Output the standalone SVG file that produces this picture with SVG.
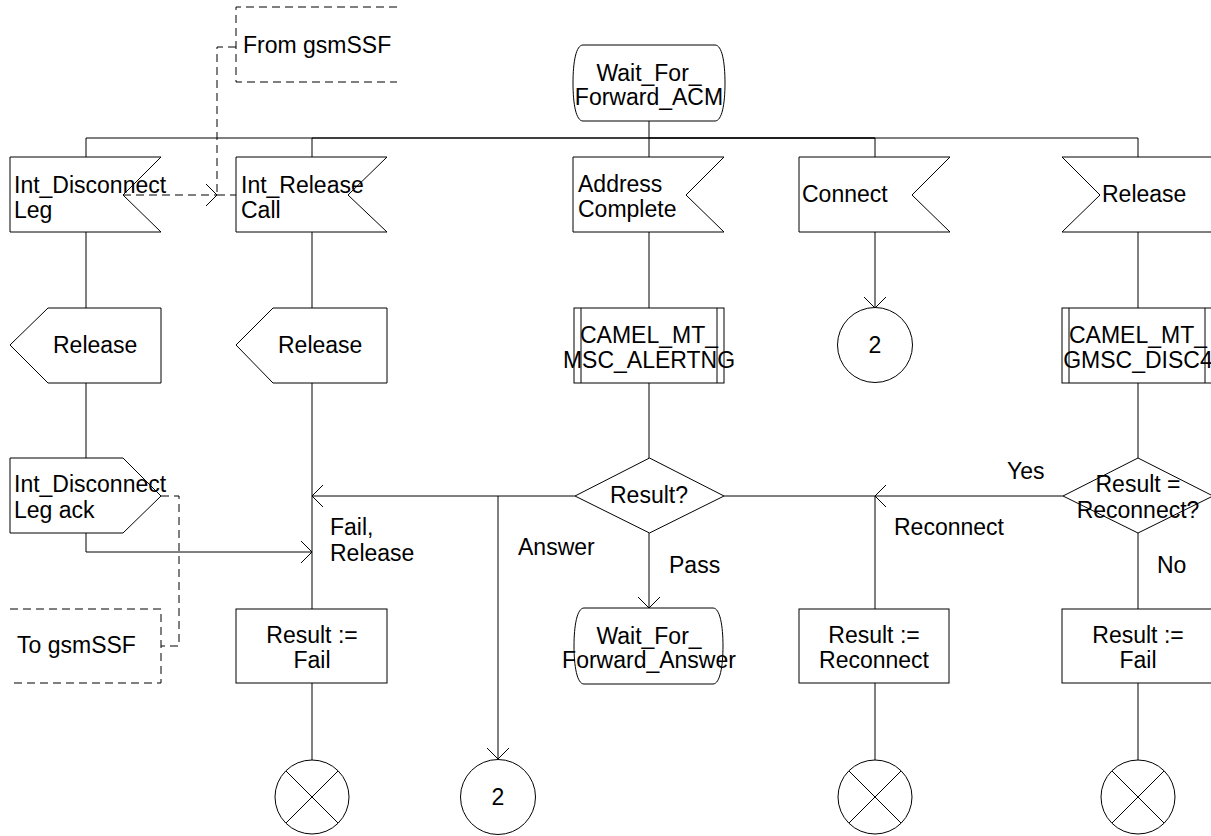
<svg xmlns="http://www.w3.org/2000/svg" width="1211" height="836" viewBox="0 0 1211 836">
<defs>
<style>
.s{fill:#fff;stroke:#000;stroke-width:1}
.l{fill:none;stroke:#000;stroke-width:1}
.d{fill:none;stroke:#000;stroke-width:1;stroke-dasharray:8,5}
text{font-family:"Liberation Sans",Arial,sans-serif;font-size:23px;fill:#000}
.m{text-anchor:middle}
</style>
<marker id="arr" markerUnits="userSpaceOnUse" markerWidth="26" markerHeight="26" viewBox="-13 -13 26 26" refX="0" refY="0" orient="auto">
<path d="M-11,-11 L0,0 L-11,11" fill="none" stroke="#000" stroke-width="1"/>
</marker>
</defs>
<rect x="0" y="0" width="1211" height="836" fill="#fff"/>

<g id="connectors">
<path class="l" d="M649,121 V138"/>
<path class="l" d="M86,138 H1138"/>
<path class="l" d="M312,138 H875" stroke-width="1.5"/>
<path class="l" d="M649,138 H875" stroke-width="2"/>
<path class="l" d="M86,138 V157 M312,138 V157 M649,138 V157 M875,138 V157 M1138,138 V157"/>
<path class="l" d="M86,232 V308 M86,383 V458"/>
<path class="l" d="M312,232 V308 M312,383 V496"/>
<path class="l" d="M312,496 V609" stroke-width="2"/>
<path class="l" d="M649,232 V308 M649,383 V458"/>
<path class="l" d="M875,232 V308" marker-end="url(#arr)"/>
<path class="l" d="M1138,232 V308 M1138,383 V458"/>
<path class="l" d="M575,496 H312" marker-end="url(#arr)"/>
<path class="l" d="M498,496 V759" marker-end="url(#arr)"/>
<path class="l" d="M649,533 V608" marker-end="url(#arr)"/>
<path class="l" d="M724,496 H875"/>
<path class="l" d="M1063,496 H875" marker-end="url(#arr)"/>
<path class="l" d="M875,496 V609"/>
<path class="l" d="M1138,533 V609"/>
<path class="l" d="M86,533 V552 H312" marker-end="url(#arr)"/>
<path class="l" d="M312,683 V760 M875,683 V760 M1138,683 V760"/>
<path class="d" d="M123,195 H217" marker-end="url(#arr)"/>
<path class="d" d="M217,195 H236"/>
<path class="d" d="M236,47 H217 V195"/>
<path class="d" d="M161,496 H179 V646 H161"/>
</g>

<g id="state_acm">
<path class="s" d="M583,45 H715 C722,45 725,62 725,83 C725,104 722,121 715,121 H583 C576,121 573,104 573,83 C573,62 576,45 583,45 Z"/>
<text class="m" x="649" y="81">Wait_For_</text>
<text class="m" x="649" y="105">Forward_ACM</text>
</g>

<g id="from_gsmssf">
<path class="d" d="M397,7 H236 V82 H397"/>
<text x="243" y="53">From gsmSSF</text>
</g>

<g id="sig_int_disconnect_leg">
<polygon class="s" points="10,157 161,157 123,195 161,232 10,232"/>
<text x="14" y="193">Int_Disconnect</text>
<text x="14" y="218">Leg</text>
</g>

<g id="sig_int_release_call">
<polygon class="s" points="236,157 387,157 348,195 387,232 236,232"/>
<text x="241" y="193">Int_Release</text>
<text x="241" y="218">Call</text>
</g>

<g id="sig_address_complete">
<polygon class="s" points="573,157 724,157 686,195 724,232 573,232"/>
<text x="578" y="192">Address</text>
<text x="578" y="217">Complete</text>
</g>

<g id="sig_connect">
<polygon class="s" points="799,157 950,157 912,195 950,232 799,232"/>
<text x="802" y="202">Connect</text>
</g>

<g id="sig_release_in">
<polygon class="s" points="1213,157 1062,157 1100,195 1062,232 1213,232"/>
<text x="1102" y="202">Release</text>
</g>

<g id="out_release_1">
<polygon class="s" points="10,345 48,308 161,308 161,383 48,383"/>
<text x="53" y="353">Release</text>
</g>

<g id="out_release_2">
<polygon class="s" points="236,345 273,308 387,308 387,383 273,383"/>
<text x="278" y="353">Release</text>
</g>

<g id="proc_alerting">
<rect class="s" x="574" y="308" width="150" height="75"/>
<path class="l" d="M581,308 V383 M717,308 V383"/>
<text class="m" x="649" y="343">CAMEL_MT_</text>
<text class="m" x="649" y="368">MSC_ALERTNG</text>
</g>

<g id="connector_2_top">
<circle class="s" cx="875" cy="345" r="37.5"/>
<text class="m" x="875" y="353">2</text>
</g>

<g id="proc_disc4">
<rect class="s" x="1062" y="308" width="150" height="75"/>
<path class="l" d="M1069,308 V383 M1205,308 V383"/>
<text class="m" x="1138" y="343">CAMEL_MT_</text>
<text class="m" x="1138" y="368">GMSC_DISC4</text>
</g>

<g id="out_int_disconnect_leg_ack">
<polygon class="s" points="10,458 123,458 161,496 123,533 10,533"/>
<text x="14" y="492">Int_Disconnect</text>
<text x="14" y="518">Leg ack</text>
</g>

<g id="to_gsmssf">
<path class="d" d="M10,609 H161 V683 H10"/>
<text x="17" y="653">To gsmSSF</text>
</g>

<g id="dec_result">
<polygon class="s" points="575,496 649.5,458 724,496 649.5,533"/>
<text class="m" x="649" y="503">Result?</text>
</g>

<g id="dec_reconnect">
<polygon class="s" points="1063,496 1138,458 1213,496 1138,533"/>
<text class="m" x="1138" y="492">Result =</text>
<text class="m" x="1138" y="518">Reconnect?</text>
</g>

<g id="labels">
<text x="330" y="535">Fail,</text>
<text x="330" y="561">Release</text>
<text x="518" y="555">Answer</text>
<text x="669" y="573">Pass</text>
<text x="1007" y="479">Yes</text>
<text x="894" y="535">Reconnect</text>
<text x="1157" y="573">No</text>
</g>

<g id="task_fail_1">
<rect class="s" x="236" y="609" width="151" height="74"/>
<text class="m" x="312" y="643">Result :=</text>
<text class="m" x="312" y="668">Fail</text>
</g>

<g id="state_answer">
<path class="s" d="M584,608 H713 C720,608 723,626 723,646 C723,666 720,684 713,684 H584 C577,684 574,666 574,646 C574,626 577,608 584,608 Z"/>
<text class="m" x="649" y="644">Wait_For_</text>
<text class="m" x="649" y="668">Forward_Answer</text>
</g>

<g id="task_reconnect">
<rect class="s" x="799" y="609" width="150" height="74"/>
<text class="m" x="874" y="643">Result :=</text>
<text class="m" x="874" y="668">Reconnect</text>
</g>

<g id="task_fail_2">
<rect class="s" x="1062" y="609" width="151" height="74"/>
<text class="m" x="1138" y="643">Result :=</text>
<text class="m" x="1138" y="668">Fail</text>
</g>

<g id="stop_1">
<circle class="s" cx="312" cy="797" r="37"/>
<path class="l" d="M286,771 L338,823 M338,771 L286,823"/>
</g>

<g id="connector_2_bottom">
<circle class="s" cx="498" cy="797" r="37.5"/>
<text class="m" x="498" y="805">2</text>
</g>

<g id="stop_2">
<circle class="s" cx="875" cy="797" r="37"/>
<path class="l" d="M849,771 L901,823 M901,771 L849,823"/>
</g>

<g id="stop_3">
<circle class="s" cx="1138" cy="797" r="37"/>
<path class="l" d="M1112,771 L1164,823 M1164,771 L1112,823"/>
</g>
</svg>
